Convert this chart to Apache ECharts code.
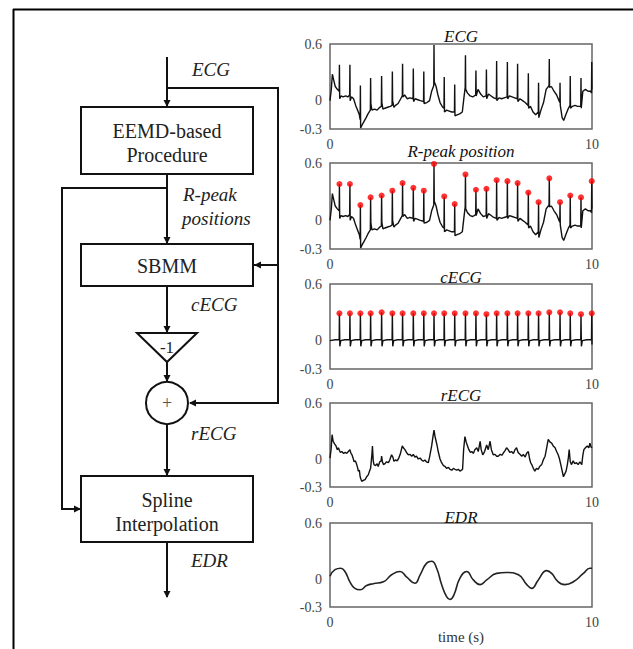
<!DOCTYPE html>
<html>
<head>
<meta charset="utf-8">
<script src="https://cdn.jsdelivr.net/npm/echarts@6/dist/echarts.min.js"></script>
<style>
html,body{margin:0;padding:0;background:#fff;}
#chart{width:633px;height:649px;}
</style>
</head>
<body>
<div id="chart"></div>
<script>
// ---------- DATA ----------
const plotTitles = ['ECG', 'R-peak position', 'cECG', 'rECG', 'EDR'];
const yTickValues = [-0.3, 0, 0.6];
const xTickValues = [0, 10];
const xAxisTitle = 'time (s)';

const rPeakTimes  = [0.36,0.76,1.16,1.55,1.97,2.38,2.77,3.18,3.58,3.97,4.36,4.76,5.17,5.57,5.97,6.36,6.77,7.16,7.57,7.96,8.37,8.78,9.17,9.58,9.99];
const rPeakValues = [0.38,0.38,0.16,0.24,0.26,0.31,0.39,0.34,0.31,0.59,0.25,0.17,0.48,0.32,0.33,0.42,0.41,0.39,0.29,0.19,0.44,0.19,0.26,0.24,0.41];
const cecgPeakValues = [0.29,0.29,0.29,0.29,0.30,0.29,0.29,0.29,0.29,0.29,0.29,0.29,0.29,0.29,0.28,0.29,0.29,0.29,0.29,0.29,0.30,0.30,0.29,0.28,0.29];

const ecgPoints = [[0,0.0],[0.05,0.12],[0.09,0.28],[0.14,0.22],[0.2,0.15],[0.28,0.12],[0.35,0.1],[0.36,0.38],[0.37,0.02],[0.42,0.05],[0.5,0.04],[0.6,0.05],[0.68,0.04],[0.75,0.06],[0.76,0.38],[0.77,0.0],[0.82,0.04],[0.9,0.02],[0.98,-0.05],[1.05,-0.1],[1.12,-0.15],[1.15,-0.2],[1.16,0.16],[1.17,-0.29],[1.22,-0.26],[1.3,-0.22],[1.38,-0.18],[1.45,-0.14],[1.54,-0.1],[1.55,0.24],[1.56,-0.03],[1.6,-0.1],[1.7,-0.09],[1.8,-0.1],[1.9,-0.07],[1.96,-0.06],[1.97,0.26],[1.98,-0.02],[2.02,-0.09],[2.1,-0.08],[2.2,-0.07],[2.3,-0.06],[2.37,-0.05],[2.38,0.31],[2.39,0.0],[2.44,-0.07],[2.5,-0.05],[2.6,-0.03],[2.7,0.02],[2.76,0.05],[2.77,0.39],[2.78,0.04],[2.85,0.06],[2.95,0.02],[3.05,0.03],[3.17,0.02],[3.18,0.34],[3.19,-0.01],[3.25,0.02],[3.35,0.01],[3.45,0.0],[3.57,-0.01],[3.58,0.31],[3.59,-0.03],[3.7,-0.02],[3.8,0.0],[3.88,0.1],[3.96,0.16],[3.97,0.59],[3.98,0.2],[4.05,0.15],[4.12,0.06],[4.2,-0.02],[4.3,-0.07],[4.35,-0.08],[4.36,0.25],[4.37,-0.12],[4.45,-0.1],[4.55,-0.11],[4.65,-0.12],[4.75,-0.12],[4.76,0.17],[4.77,-0.16],[4.85,-0.15],[4.95,-0.14],[5.05,-0.12],[5.12,0.05],[5.16,0.14],[5.17,0.48],[5.18,0.12],[5.25,0.08],[5.35,0.05],[5.45,0.04],[5.56,0.06],[5.57,0.32],[5.58,0.05],[5.65,0.12],[5.75,0.07],[5.85,0.04],[5.96,0.05],[5.97,0.33],[5.98,0.02],[6.05,0.07],[6.15,0.05],[6.25,0.03],[6.35,0.02],[6.36,0.42],[6.37,0.0],[6.45,0.03],[6.55,0.02],[6.65,0.03],[6.76,0.04],[6.77,0.41],[6.78,0.02],[6.85,0.05],[6.95,0.04],[7.05,0.03],[7.15,0.02],[7.16,0.39],[7.17,-0.01],[7.25,0.02],[7.35,0.0],[7.45,-0.02],[7.56,-0.05],[7.57,0.29],[7.58,-0.08],[7.65,-0.06],[7.75,-0.12],[7.85,-0.15],[7.95,-0.12],[7.96,0.19],[7.97,-0.18],[8.05,-0.1],[8.15,-0.02],[8.25,0.12],[8.36,0.16],[8.37,0.44],[8.38,0.14],[8.45,0.15],[8.55,0.1],[8.65,0.06],[8.77,-0.02],[8.78,0.19],[8.79,-0.05],[8.86,-0.18],[8.92,-0.21],[9.0,-0.15],[9.1,-0.08],[9.16,-0.05],[9.17,0.26],[9.18,-0.08],[9.25,-0.06],[9.35,-0.05],[9.45,-0.06],[9.57,-0.06],[9.58,0.24],[9.59,-0.08],[9.65,0.1],[9.75,0.12],[9.85,0.1],[9.95,0.1],[9.98,0.08],[9.99,0.41],[10,0.12]];

const cecgPoints = [[0,0.0],[0.2,0.01],
[0.35,0.01],[0.36,0.29],[0.375,-0.06],[0.41,0.0],[0.56,0.01],
[0.75,0.01],[0.76,0.29],[0.775,-0.06],[0.81,0.0],[0.96,0.01],
[1.15,0.01],[1.16,0.29],[1.175,-0.06],[1.21,0.0],[1.36,0.01],
[1.54,0.01],[1.55,0.29],[1.565,-0.06],[1.6,0.0],[1.76,0.01],
[1.96,0.01],[1.97,0.30],[1.985,-0.06],[2.02,0.0],[2.18,0.01],
[2.37,0.01],[2.38,0.29],[2.395,-0.06],[2.43,0.0],[2.58,0.01],
[2.76,0.01],[2.77,0.29],[2.785,-0.06],[2.82,0.0],[2.98,0.01],
[3.17,0.01],[3.18,0.29],[3.195,-0.06],[3.23,0.0],[3.38,0.01],
[3.57,0.01],[3.58,0.29],[3.595,-0.06],[3.63,0.0],[3.78,0.01],
[3.96,0.01],[3.97,0.29],[3.985,-0.06],[4.02,0.0],[4.17,0.01],
[4.35,0.01],[4.36,0.29],[4.375,-0.06],[4.41,0.0],[4.56,0.01],
[4.75,0.01],[4.76,0.29],[4.775,-0.06],[4.81,0.0],[4.97,0.01],
[5.16,0.01],[5.17,0.29],[5.185,-0.06],[5.22,0.0],[5.37,0.01],
[5.56,0.01],[5.57,0.29],[5.585,-0.06],[5.62,0.0],[5.77,0.01],
[5.96,0.01],[5.97,0.28],[5.985,-0.06],[6.02,0.0],[6.17,0.01],
[6.35,0.01],[6.36,0.29],[6.375,-0.06],[6.41,0.0],[6.57,0.01],
[6.76,0.01],[6.77,0.29],[6.785,-0.06],[6.82,0.0],[6.97,0.01],
[7.15,0.01],[7.16,0.29],[7.175,-0.06],[7.21,0.0],[7.37,0.01],
[7.56,0.01],[7.57,0.29],[7.585,-0.06],[7.62,0.0],[7.77,0.01],
[7.95,0.01],[7.96,0.29],[7.975,-0.06],[8.01,0.0],[8.17,0.01],
[8.36,0.01],[8.37,0.30],[8.385,-0.06],[8.42,0.0],[8.58,0.01],
[8.77,0.01],[8.78,0.30],[8.795,-0.06],[8.83,0.0],[8.98,0.01],
[9.16,0.01],[9.17,0.29],[9.185,-0.06],[9.22,0.0],[9.38,0.01],
[9.57,0.01],[9.58,0.28],[9.595,-0.06],[9.63,0.0],[9.8,0.01],
[9.98,0.01],[9.99,0.29],[10,-0.04]];

const recgPoints = [[0,0.01],[0.04,0.1],[0.08,0.26],[0.12,0.19],[0.18,0.16],[0.23,0.14],[0.28,0.1],[0.32,0.12],[0.36,0.09],[0.4,0.07],[0.45,0.08],[0.52,0.06],[0.58,0.07],[0.64,0.06],[0.7,0.08],[0.76,0.1],[0.8,0.06],[0.83,0.05],[0.88,0.01],[0.92,-0.03],[0.97,-0.02],[1.02,-0.06],[1.06,-0.1],[1.08,-0.13],[1.12,-0.12],[1.15,-0.19],[1.21,-0.24],[1.27,-0.23],[1.34,-0.22],[1.4,-0.19],[1.46,-0.17],[1.52,-0.12],[1.55,-0.1],[1.6,0.05],[1.62,0.14],[1.65,-0.02],[1.68,-0.06],[1.74,-0.07],[1.8,-0.05],[1.84,-0.08],[1.9,-0.03],[1.95,-0.02],[1.97,0.03],[2.0,-0.03],[2.04,-0.06],[2.1,-0.05],[2.16,-0.03],[2.23,-0.04],[2.28,-0.01],[2.35,0.045],[2.4,0.02],[2.44,-0.025],[2.5,-0.01],[2.56,-0.02],[2.61,0.0],[2.68,0.05],[2.76,0.14],[2.8,0.12],[2.86,0.1],[2.92,0.07],[2.99,0.045],[3.05,0.05],[3.12,0.03],[3.18,0.05],[3.24,0.02],[3.3,0.03],[3.37,0.0],[3.44,0.01],[3.5,-0.01],[3.56,-0.025],[3.62,-0.01],[3.68,-0.03],[3.75,-0.04],[3.8,0.02],[3.88,0.14],[3.93,0.24],[3.97,0.31],[4.01,0.24],[4.05,0.19],[4.09,0.14],[4.13,0.08],[4.2,0.0],[4.26,-0.04],[4.33,-0.07],[4.39,-0.08],[4.45,-0.1],[4.52,-0.09],[4.58,-0.11],[4.65,-0.12],[4.71,-0.1],[4.77,-0.11],[4.84,-0.12],[4.9,-0.11],[4.96,-0.13],[5.02,-0.12],[5.06,-0.11],[5.1,0.1],[5.15,0.24],[5.2,0.18],[5.25,0.14],[5.3,0.1],[5.36,0.07],[5.41,0.08],[5.47,0.06],[5.53,0.1],[5.6,0.12],[5.66,0.08],[5.73,0.19],[5.77,0.1],[5.83,0.045],[5.9,0.08],[5.98,0.15],[6.04,0.1],[6.11,0.19],[6.16,0.1],[6.23,0.045],[6.3,0.05],[6.36,0.03],[6.42,0.03],[6.5,0.05],[6.56,0.04],[6.62,0.065],[6.68,0.09],[6.74,0.12],[6.8,0.1],[6.86,0.07],[6.93,0.08],[7.0,0.06],[7.06,0.1],[7.12,0.12],[7.18,0.07],[7.25,0.05],[7.32,0.03],[7.38,0.05],[7.45,0.02],[7.5,0.06],[7.57,0.08],[7.62,0.0],[7.66,-0.04],[7.7,-0.06],[7.76,-0.1],[7.82,-0.13],[7.88,-0.1],[7.95,-0.11],[8.0,-0.08],[8.08,-0.06],[8.14,-0.01],[8.21,0.03],[8.27,0.12],[8.33,0.21],[8.4,0.18],[8.46,0.17],[8.52,0.14],[8.59,0.12],[8.65,0.08],[8.71,0.045],[8.76,0.0],[8.8,-0.05],[8.84,-0.1],[8.91,-0.19],[8.96,-0.16],[9.01,-0.13],[9.06,-0.06],[9.1,0.02],[9.13,0.1],[9.17,-0.03],[9.22,-0.06],[9.28,-0.02],[9.34,-0.05],[9.41,-0.04],[9.47,-0.06],[9.54,-0.03],[9.61,-0.06],[9.65,0.04],[9.69,0.1],[9.75,0.12],[9.82,0.14],[9.88,0.12],[9.92,0.17],[9.96,0.13],[10,0.12]];

const edrPoints = [[0,0.03],[0.19,0.1],[0.41,0.115],[0.57,0.08],[0.76,-0.03],[0.95,-0.1],[1.15,-0.115],[1.4,-0.07],[1.65,-0.05],[2.04,-0.03],[2.35,0.045],[2.67,0.08],[2.93,0.02],[3.24,-0.045],[3.44,0.045],[3.69,0.17],[3.88,0.19],[4.07,0.115],[4.26,-0.06],[4.45,-0.19],[4.58,-0.22],[4.73,-0.17],[4.96,0.01],[5.22,0.08],[5.47,-0.01],[5.73,-0.06],[5.98,-0.01],[6.36,0.06],[6.74,0.07],[7.19,0.045],[7.51,-0.06],[7.7,-0.1],[7.95,-0.01],[8.27,0.09],[8.46,0.06],[8.71,-0.03],[8.97,-0.06],[9.29,-0.03],[9.67,0.06],[9.92,0.115],[10,0.115]];

// ---------- LAYOUT ----------
const FONT = 'Liberation Serif';
const plotLeft = 330, plotWidth = 262;
const plotTops = [44, 163, 284, 403, 523];
const plotHeights = [85, 86, 85, 84, 84];
const titleCenters = [36, 151, 277, 395, 517];

const grids = [], xAxes = [], yAxes = [], titles = [];
plotTops.forEach((top, i) => {
  grids.push({left: plotLeft, top: top, width: plotWidth, height: plotHeights[i],
    show: true, borderColor: '#666', borderWidth: 1.5, backgroundColor: 'transparent', containLabel: false});
  xAxes.push({type: 'value', gridIndex: i, min: xTickValues[0], max: xTickValues[1], interval: xTickValues[1] - xTickValues[0],
    axisLine: {show: false}, axisTick: {show: false}, splitLine: {show: false},
    axisLabel: {color: '#444', fontFamily: FONT, fontSize: 14, margin: 8},
    name: i === 4 ? xAxisTitle : '', nameLocation: 'middle', nameGap: 12,
    nameTextStyle: {color: '#333', fontFamily: 'serif', fontSize: 15}});
  yAxes.push({type: 'value', gridIndex: i, min: -0.3, max: 0.6, interval: 0.3,
    axisLine: {show: false}, axisTick: {show: false}, splitLine: {show: false},
    axisLabel: {color: '#444', fontFamily: FONT, fontSize: 14, margin: 8,
      formatter: v => {
        const hit = yTickValues.find(t => Math.abs(t - v) < 1e-6);
        return hit === undefined ? '' : String(hit);
      }}});
  titles.push({text: plotTitles[i], left: plotLeft + plotWidth / 2, top: titleCenters[i], padding: 0,
    textAlign: 'center', textVerticalAlign: 'middle',
    textStyle: {fontFamily: FONT, fontStyle: 'italic', fontWeight: 'normal', fontSize: 17, color: '#111'}});
});

const lineStyle = {color: '#111', width: 1.4};
const peakDots = rPeakTimes.map((t, i) => [t, rPeakValues[i]]);
const cecgDots = rPeakTimes.map((t, i) => [t, cecgPeakValues[i]]);

const series = [
  {type: 'line', name: 'ECG', xAxisIndex: 0, yAxisIndex: 0, data: ecgPoints, showSymbol: false, lineStyle, silent: true},
  {type: 'line', name: 'ECG2', xAxisIndex: 1, yAxisIndex: 1, data: ecgPoints, showSymbol: false, lineStyle, silent: true},
  {type: 'scatter', name: 'R-peak', xAxisIndex: 1, yAxisIndex: 1, data: peakDots, symbolSize: 6, itemStyle: {color: '#ff0000'}, clip: false, z: 5},
  {type: 'line', name: 'cECG', xAxisIndex: 2, yAxisIndex: 2, data: cecgPoints, showSymbol: false, lineStyle, silent: true},
  {type: 'scatter', name: 'cECG peaks', xAxisIndex: 2, yAxisIndex: 2, data: cecgDots, symbolSize: 6, itemStyle: {color: '#ff0000'}, clip: false, z: 5},
  {type: 'line', name: 'rECG', xAxisIndex: 3, yAxisIndex: 3, data: recgPoints, showSymbol: false, lineStyle, silent: true},
  {type: 'line', name: 'EDR', xAxisIndex: 4, yAxisIndex: 4, data: edrPoints, showSymbol: false, smooth: 0.5, lineStyle: {color: '#222', width: 1.6}, silent: true}
];

// ---------- FLOWCHART (graphic) ----------
const STROKE = '#111';
const g = [];
function line(x1, y1, x2, y2) { g.push({type: 'line', shape: {x1, y1, x2, y2}, style: {stroke: STROKE, lineWidth: 2}}); }
function poly(points) { g.push({type: 'polyline', shape: {points}, style: {stroke: STROKE, lineWidth: 2, fill: null}}); }
function head(x, y, dir) {
  const L = 7, W = 3.5;
  let pts;
  if (dir === 'down') pts = [[x, y], [x - W, y - L], [x + W, y - L]];
  else if (dir === 'left') pts = [[x, y], [x + L, y - W], [x + L, y + W]];
  else pts = [[x, y], [x - L, y - W], [x - L, y + W]];
  g.push({type: 'polygon', shape: {points: pts}, style: {fill: STROKE, stroke: null}, z: 10});
}
function box(x, y, w, h) { g.push({type: 'rect', shape: {x, y, width: w, height: h}, style: {stroke: STROKE, lineWidth: 2, fill: '#fff'}}); }
function txt(s, x, y, opts) {
  opts = opts || {};
  const align = opts.align || 'center';
  g.push({type: 'text', x, y, z: 20, style: {text: s,
    fontFamily: FONT, fontSize: (opts.size || 19), fontStyle: opts.italic ? 'italic' : 'normal',
    fill: opts.color || '#222', textAlign: align, align: align, textVerticalAlign: 'middle', verticalAlign: 'middle'}});
}

// outer frame (top + left)
g.push({type: 'line', shape: {x1: 13, y1: 9.5, x2: 633, y2: 9.5}, style: {stroke: '#000', lineWidth: 2}});
g.push({type: 'line', shape: {x1: 13.5, y1: 9, x2: 13.5, y2: 649}, style: {stroke: '#000', lineWidth: 2}});

const cx = 167;
line(cx, 57, cx, 107); head(cx, 107, 'down');
poly([[cx, 88], [278, 88], [278, 403], [190, 403]]); head(189, 403, 'left');
line(278, 265, 254, 265); head(254, 265, 'left');
box(81, 107, 172, 67);
line(cx, 174, cx, 244); head(cx, 244, 'down');
poly([[cx, 188], [62, 188], [62, 509], [81, 509]]); head(81, 509, 'right');
box(81, 244, 172, 42);
line(cx, 286, cx, 333); head(cx, 333, 'down');
g.push({type: 'polygon', shape: {points: [[137, 333], [197, 333], [cx, 362]]}, style: {stroke: STROKE, lineWidth: 2, fill: '#fff'}});
line(cx, 362, cx, 382); head(cx, 382, 'down');
g.push({type: 'circle', shape: {cx: cx, cy: 403, r: 21}, style: {stroke: STROKE, lineWidth: 2, fill: '#fff'}});
line(cx, 424, cx, 476); head(cx, 476, 'down');
box(81, 476, 172, 66);
line(cx, 542, cx, 597); head(cx, 598, 'down');

txt('ECG', 192, 69, {italic: true, size: 19, align: 'left'});
txt('EEMD-based', cx, 131, {size: 20});
txt('Procedure', cx, 155, {size: 20});
txt('R-peak', 183, 194, {italic: true, size: 19, align: 'left'});
txt('positions', 182, 218, {italic: true, size: 19, align: 'left'});
txt('SBMM', cx, 266, {size: 20});
txt('cECG', 191, 304, {italic: true, size: 19, align: 'left'});
txt('-1', cx, 347, {size: 17});
txt('+', cx, 403, {size: 18, color: '#555'});
txt('rECG', 191, 433, {italic: true, size: 19, align: 'left'});
txt('Spline', cx, 500, {size: 20});
txt('Interpolation', cx, 524, {size: 20});
txt('EDR', 191, 560, {italic: true, size: 19, align: 'left'});

const chart = echarts.init(document.getElementById('chart'), null, {renderer: 'svg'});
chart.setOption({
  animation: false,
  backgroundColor: '#fff',
  title: titles,
  grid: grids,
  xAxis: xAxes,
  yAxis: yAxes,
  series: series,
  graphic: g
});
</script>
</body>
</html>
